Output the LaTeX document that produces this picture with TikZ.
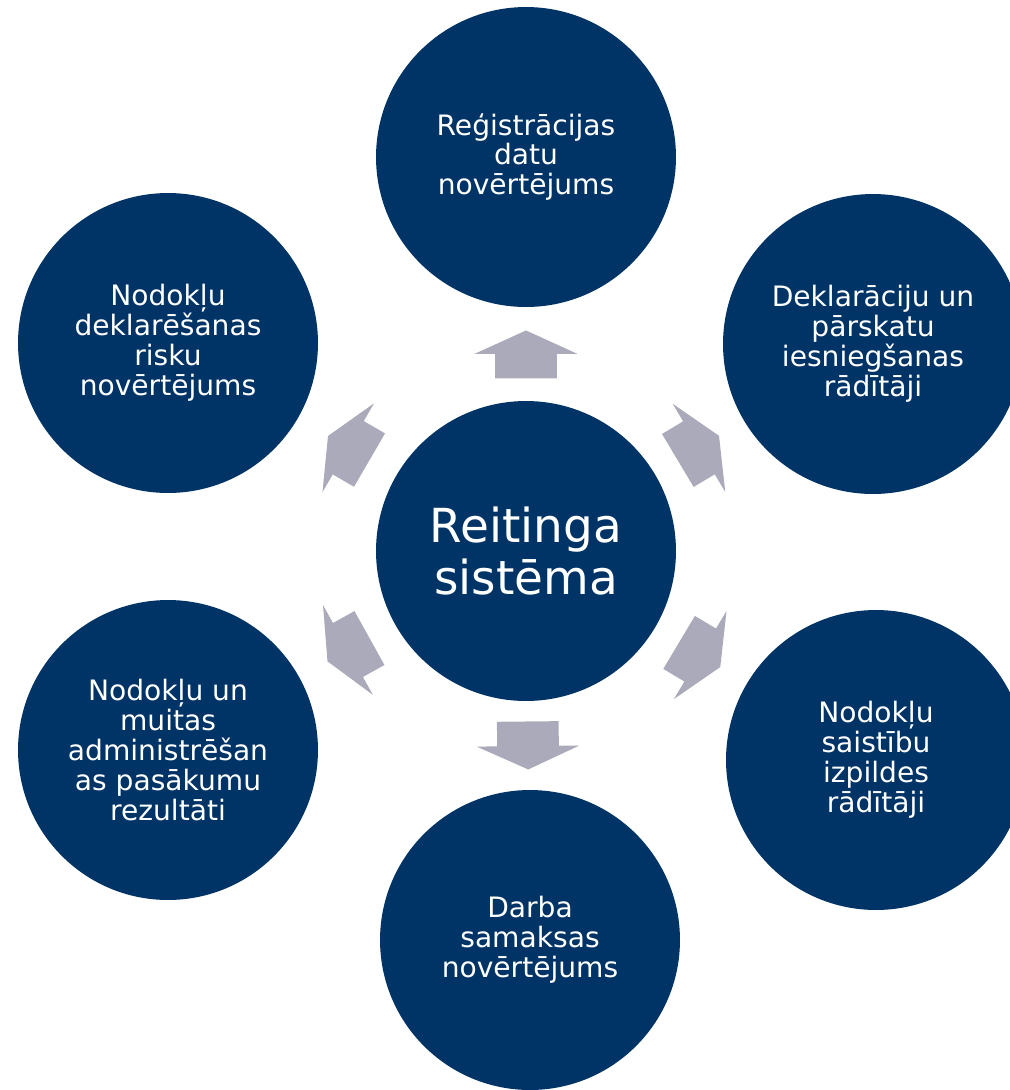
\documentclass[tikz,border=0pt]{standalone}
\usepackage{fontspec}
\setmainfont{DejaVu Sans}
\definecolor{colcircle}{RGB}{0,51,102}
\definecolor{colarrow}{RGB}{170,170,186}
\usetikzlibrary{
	shapes.arrows
}
\tikzset{
	ratingnode/.style={circle, fill=colcircle, text=white, minimum size=6cm, inner sep=0pt, align=center, font=\fontsize{16}{17}\selectfont},
	hubnode/.style={ratingnode, font=\fontsize{26.7}{30}\selectfont},
	blockarrow/.style={single arrow, fill=colarrow, inner xsep=0pt, inner ysep=0.61cm, minimum height=0.96cm, single arrow head extend=0.41cm, single arrow tip angle=131, sloped, allow upside down, pos=0.42}
}
\begin{document}
\begin{tikzpicture}[x=0.02cm, y=-0.02cm]
	\clip (0,0) rectangle (1010,1090);
	\fill[white] (0,0) rectangle (1010,1090);

	\node[hubnode] (hub) at (526,551) {Reitinga\\sistēma};
	\node[ratingnode] (reg) at (526,157) {Reģistrācijas\\datu\\novērtējums};
	\node[ratingnode] (decl) at (873,344) {Deklarāciju un\\pārskatu\\iesniegšanas\\rādītāji};
	\node[ratingnode] (oblig) at (876,760) {Nodokļu\\saistību\\izpildes\\rādītāji};
	\node[ratingnode] (wage) at (530,940) {Darba\\samaksas\\novērtējums};
	\node[ratingnode] (admin) at (168,750) {Nodokļu un\\muitas\\administrēšan\\as pasākumu\\rezultāti};
	\node[ratingnode] (risk) at (168,343) {Nodokļu\\deklarēšanas\\risku\\novērtējums};

	\path (hub) -- (reg) node[blockarrow] (toreg) {};
	\path (hub) -- (decl) node[blockarrow] (todecl) {};
	\path (hub) -- (oblig) node[blockarrow] (tooblig) {};
	\path (hub) -- (wage) node[blockarrow] (towage) {};
	\path (hub) -- (admin) node[blockarrow] (toadmin) {};
	\path (hub) -- (risk) node[blockarrow] (torisk) {};
\end{tikzpicture}
\end{document}
